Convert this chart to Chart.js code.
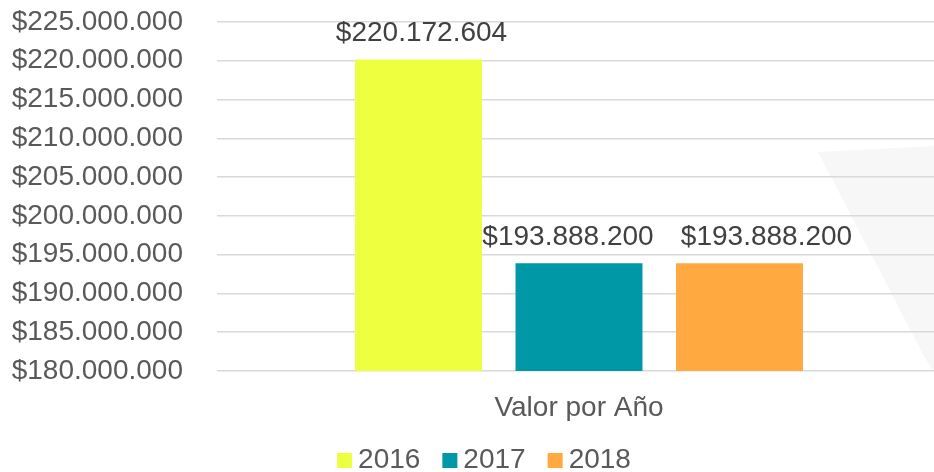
<!DOCTYPE html>
<html>
<head>
<meta charset="utf-8">
<script src="https://cdn.jsdelivr.net/npm/chart.js@4/dist/chart.umd.min.js"></script>
<style>
  html, body { margin: 0; padding: 0; background: #fff; }
  #wrap { width: 934px; height: 472px; overflow: hidden; }
</style>
</head>
<body>
<div id="wrap"><canvas id="valorChart" width="941" height="472"></canvas></div>
<script>
// datos
const categories = ["Valor por Año"];
const years = ["2016", "2017", "2018"];
const values2016 = [220172604];
const values2017 = [193888200];
const values2018 = [193888200];
const yTicks = [180000000, 185000000, 190000000, 195000000, 200000000, 205000000, 210000000, 215000000, 220000000, 225000000];

const colors = ["#EDFF3E", "#0098A6", "#FFA940"];
const fontFamily = "'Liberation Sans', Arial, sans-serif";
const fontSize = 28;
// desplazamiento horizontal de cada etiqueta (como en el original)
const labelShift = [3, -11, 27];

function pesos(n) {
    return "$" + Math.round(n).toString().replace(/\B(?=(\d{3})+(?!\d))/g, ".");
}

// fondo gris tenue a la derecha
const backdrop = {
    id: "backdrop",
    beforeDraw(chart) {
        const ctx = chart.ctx;
        ctx.save();
        ctx.fillStyle = "#f7f7f7";
        ctx.beginPath();
        ctx.moveTo(818, 152);
        ctx.lineTo(934, 146);
        ctx.lineTo(934, 372);
        ctx.lineTo(926, 360);
        ctx.closePath();
        ctx.fill();
        ctx.restore();
    }
};

// etiquetas sobre las barras
const barLabels = {
    id: "barLabels",
    afterDatasetsDraw(chart) {
        const ctx = chart.ctx;
        ctx.save();
        ctx.font = fontSize + "px " + fontFamily;
        ctx.fillStyle = "#404040";
        ctx.textAlign = "center";
        ctx.textBaseline = "middle";
        chart.data.datasets.forEach((ds, i) => {
            chart.getDatasetMeta(i).data.forEach((bar, j) => {
                ctx.fillText(pesos(ds.data[j]), bar.x + labelShift[i], bar.y - 26);
            });
        });
        ctx.restore();
    }
};

// leyenda abajo, cuadrado pegado al texto
const bottomLegend = {
    id: "bottomLegend",
    afterDraw(chart) {
        const ctx = chart.ctx;
        const items = chart.legend.legendItems;
        ctx.save();
        ctx.font = fontSize + "px " + fontFamily;
        ctx.textBaseline = "middle";
        ctx.textAlign = "left";
        const box = 15, gap = 6, space = 22, cy = 460;
        const widths = items.map(it => box + gap + ctx.measureText(it.text).width);
        const total = widths.reduce((a, b) => a + b, 0) + space * (items.length - 1);
        let x = 484 - total / 2;
        items.forEach((it, i) => {
            ctx.fillStyle = it.fillStyle;
            ctx.fillRect(x, cy - 7, box, box);
            ctx.fillStyle = "#595959";
            ctx.fillText(it.text, x + box + gap, cy);
            x += widths[i] + space;
        });
        ctx.restore();
    }
};

const seriesValues = [values2016, values2017, values2018];

new Chart("valorChart", {
    type: "bar",
    data: {
        labels: categories,
        datasets: years.map((y, i) => ({
            label: y,
            data: seriesValues[i],
            backgroundColor: colors[i],
            categoryPercentage: 0.665,
            barPercentage: 0.791
        }))
    },
    options: {
        responsive: false,
        animation: false,
        layout: { padding: { top: 22, right: 0, bottom: 51, left: 0 } },
        plugins: {
            legend: { display: false },
            tooltip: { enabled: false }
        },
        scales: {
            x: {
                afterFit(scale) { scale.height = 50; },
                grid: { display: false, drawTicks: false },
                border: { display: false },
                ticks: {
                    color: "#595959",
                    padding: 20,
                    font: { family: fontFamily, size: fontSize }
                }
            },
            y: {
                min: 180000000,
                max: 225000000,
                afterFit(scale) {
                    scale.width = 217;
                    scale.paddingTop = 0;
                    scale.paddingBottom = 0;
                },
                afterBuildTicks(scale) { scale.ticks = yTicks.map(v => ({ value: v })); },
                grid: { color: "#d9d9d9", lineWidth: 1.5, drawTicks: false },
                border: { display: false },
                ticks: {
                    autoSkip: false,
                    color: "#595959",
                    padding: 34,
                    font: { family: fontFamily, size: fontSize },
                    callback: v => pesos(v)
                }
            }
        }
    },
    plugins: [backdrop, barLabels, bottomLegend]
});
</script>
</body>
</html>
